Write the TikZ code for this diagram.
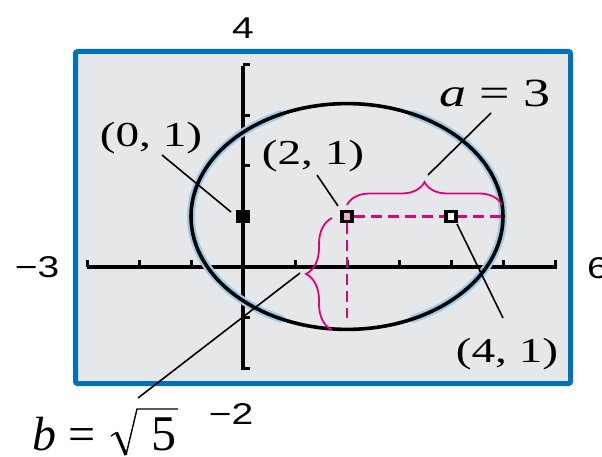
\documentclass[tikz,border=0pt]{standalone}
\usepackage{fontspec}
\setmainfont{Liberation Serif}
\newfontfamily\lser[FakeStretch=1.35]{Liberation Serif}
\newfontfamily\lsan[FakeStretch=1.3]{Liberation Sans}
\usetikzlibrary{decorations.pathreplacing}
\definecolor{scrn}{RGB}{230,231,232}
\definecolor{frame}{RGB}{0,114,188}
\definecolor{mag}{RGB}{228,0,124}
\definecolor{halo}{RGB}{160,204,232}
\begin{document}
\begin{tikzpicture}[x=1pt,y=-1pt,
  ax/.style={line width=4.5pt},
  tck/.style={line width=3pt},
  lead/.style={line width=1.6pt},
  lbl/.style={inner sep=0pt, anchor=base, font=\lser\fontsize{35}{40}\selectfont},
  bigl/.style={inner sep=0pt, anchor=base, font=\lser\fontsize{40}{46}\selectfont},
  axl/.style={inner sep=0pt, font=\lsan\fontsize{30}{36}\selectfont},
  mdash/.style={mag, line width=2.5pt, dash pattern=on 11pt off 6pt},
  brc/.style={mag, line width=1.8pt, decorate, decoration={brace, amplitude=#1}},
  ptbox/.style={draw=black, line width=3.5pt, minimum size=10pt, inner sep=0pt, rectangle},
  haloarc/.style={halo, line width=8pt, line cap=round}
]
\useasboundingbox (0,0) rectangle (602,457);
% screen
\fill[scrn] (75.5,51.5) rectangle (570.5,383.5);
% axes
\draw[ax] (87,267) -- (557,267);
\foreach \i in {-3,-2,-1,1,2,3,4,5,6}
  \draw[tck] ({243+52*\i},267) -- ++(0,-7);
\draw[ax] (243,66) -- (243,370);
\foreach \j in {-2,-1,2,3,4}
  \draw[tck] (243,{267-50.5*\j}) -- ++(7,0);
% ellipse (halo on the steep sides, then the pixel curve)
\draw[haloarc] ({347+156*cos(115)},{216.5-112.9*sin(115)})
  arc[start angle=115, end angle=245, x radius=156pt, y radius=112.9pt];
\draw[haloarc] ({347+156*cos(-65)},{216.5-112.9*sin(-65)})
  arc[start angle=-65, end angle=65, x radius=156pt, y radius=112.9pt];
\draw[black, line width=3.6pt] (347,216.5) ellipse [x radius=156pt, y radius=112.9pt];
% points
\node[ptbox, fill=black] (p0) at (243,216.5) {};
\node[ptbox, fill=mag!35!white] (p2) at (347,216.5) {};
% magenta dashes
\coordinate (hend) at (503,216.5);
\coordinate (vend) at (347,318);
\draw[mdash] (p2.east) -- (hend);
\draw[mdash] (p2.south) -- (vend);
\node[ptbox, fill=green!8!white] (p4) at (451,216.5) {};
% braces
\coordinate (ba1) at (347,205);
\coordinate (ba2) at (502,205);
\coordinate (bb1) at (332,330);
\coordinate (bb2) at (332,218);
\draw[brc=23pt] (ba1) -- (ba2);
\draw[brc=26pt] (bb1) -- (bb2);
% frame
\draw[frame, line width=5pt, rounded corners=2pt] (75.5,51.5) rectangle (570.5,383.5);
% labels
\node[lbl] (l0) at (151,147) {(0, 1)};
\node[lbl] (l2) at (313,165) {(2, 1)};
\node[lbl] (l4) at (507,362) {(4, 1)};
\node[bigl] (la) at (495,107) {{\itshape a} = 3};
\node[inner sep=0pt, anchor=base west, font=\fontsize{48}{52}\selectfont] (lb) at (32,450) {{\itshape b} =};
\node[inner sep=0pt, anchor=base west, font=\fontsize{50}{54}\selectfont] (l5) at (151,450) {5};
\coordinate (r1) at (111,436);
\coordinate (r2) at (116.5,432.5);
\coordinate (r3) at (126,455);
\coordinate (r4) at (137,409);
\coordinate (r5) at (178,409);
\draw[line width=1.4pt] (r1) -- (r2);
\draw[line width=3.2pt] (r2) -- (r3);
\draw[line width=1.4pt, line join=miter] (r3) -- (r4) -- (r5);
\node[axl] (t4) at (243,28) {4};
\node[axl] (tm3) at (37,267) {−3};
\node[axl, anchor=west] (t6) at (587,268) {6};
\node[axl] (tm2) at (231,414) {−2};
% leaders
\coordinate (c0a) at (162,155);
\coordinate (c0b) at (231,212);
\coordinate (c2a) at (317,175);
\coordinate (c2b) at (338,206);
\coordinate (caa) at (491,113);
\coordinate (cab) at (428,175);
\coordinate (c4a) at (457,224);
\coordinate (c4b) at (503,318);
\coordinate (cba) at (300,273);
\coordinate (cbb) at (138,398);
\draw[lead] (c0a) -- (c0b);
\draw[lead] (c2a) -- (c2b);
\draw[lead] (caa) -- (cab);
\draw[lead] (c4a) -- (c4b);
\draw[lead] (cba) -- (cbb);
\end{tikzpicture}
\end{document}
